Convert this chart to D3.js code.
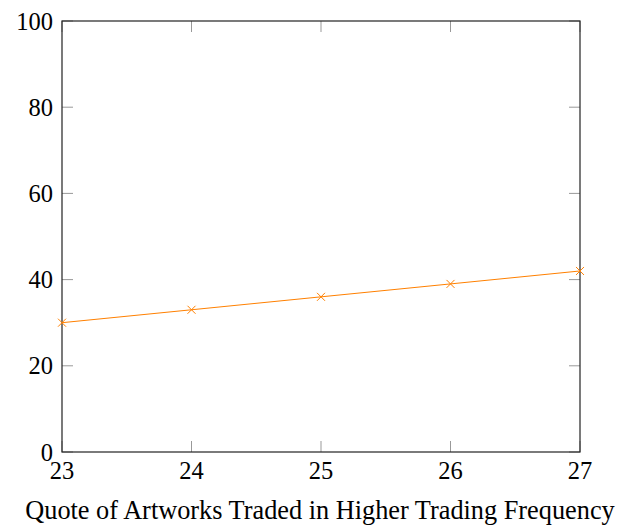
<!DOCTYPE html>
<html>
<head>
<meta charset="utf-8">
<script src="https://cdn.jsdelivr.net/npm/d3@7"></script>
<style>
  html, body { margin: 0; padding: 0; background: #fff; }
  svg text { font-family: "Liberation Serif", "Times New Roman", serif; fill: #000; }
</style>
</head>
<body>
<svg id="chart" width="634" height="525"></svg>
<script>
// Share of artworks traded by year
const years = [23, 24, 25, 26, 27];
const quotes = [30, 33, 36, 39, 42];
const yTicks = [0, 20, 40, 60, 80, 100];
const xTicks = [23, 24, 25, 26, 27];
const xLabel = "Quote of Artworks Traded in Higher Trading Frequency";

const svg = d3.select("#chart");
const plotLeft = 62, plotRight = 580, plotTop = 21, plotBottom = 452;

const x = d3.scaleLinear().domain([23, 27]).range([plotLeft, plotRight]);
const y = d3.scaleLinear().domain([0, 100]).range([plotBottom, plotTop]);

const tickLen = 11;
const tickColor = "#999";
const tickFont = 24.5;

// inward tick marks on all four sides
const g = svg.append("g");
g.selectAll(".ytl").data(yTicks).join("line")
  .attr("x1", plotLeft).attr("x2", plotLeft + tickLen)
  .attr("y1", d => y(d)).attr("y2", d => y(d))
  .attr("stroke", tickColor).attr("stroke-width", 1);
g.selectAll(".ytr").data(yTicks).join("line")
  .attr("x1", plotRight - tickLen).attr("x2", plotRight)
  .attr("y1", d => y(d)).attr("y2", d => y(d))
  .attr("stroke", tickColor).attr("stroke-width", 1);
g.selectAll(".xtb").data(xTicks).join("line")
  .attr("x1", d => x(d)).attr("x2", d => x(d))
  .attr("y1", plotBottom).attr("y2", plotBottom - tickLen)
  .attr("stroke", tickColor).attr("stroke-width", 1);
g.selectAll(".xtt").data(xTicks).join("line")
  .attr("x1", d => x(d)).attr("x2", d => x(d))
  .attr("y1", plotTop).attr("y2", plotTop + tickLen)
  .attr("stroke", tickColor).attr("stroke-width", 1);

// frame
svg.append("rect")
  .attr("x", plotLeft).attr("y", plotTop)
  .attr("width", plotRight - plotLeft).attr("height", plotBottom - plotTop)
  .attr("fill", "none").attr("stroke", "#222").attr("stroke-width", 1.2);

// tick labels
svg.selectAll(".ylab").data(yTicks).join("text")
  .attr("x", plotLeft - 9).attr("y", d => y(d))
  .attr("dy", "0.35em")
  .attr("text-anchor", "end")
  .attr("font-size", tickFont)
  .text(d => d);

svg.selectAll(".xlab").data(xTicks).join("text")
  .attr("x", d => x(d)).attr("y", plotBottom + 27)
  .attr("text-anchor", "middle")
  .attr("font-size", tickFont)
  .text(d => d);

svg.append("text")
  .attr("x", 320).attr("y", 519)
  .attr("text-anchor", "middle")
  .attr("font-size", 26.3)
  .text(xLabel);

// data line
const orange = "#ff8000";
const pts = years.map((yr, i) => [yr, quotes[i]]);
svg.append("path")
  .datum(pts)
  .attr("fill", "none")
  .attr("stroke", orange)
  .attr("stroke-width", 1)
  .attr("d", d3.line().x(d => x(d[0])).y(d => y(d[1])));

// x markers
const m = 4;
const marks = svg.append("g");
pts.forEach(d => {
  const cx = x(d[0]), cy = y(d[1]);
  marks.append("path")
    .attr("d", `M${cx - m},${cy - m}L${cx + m},${cy + m}M${cx - m},${cy + m}L${cx + m},${cy - m}`)
    .attr("stroke", orange).attr("stroke-width", 1).attr("fill", "none");
});
</script>
</body>
</html>
